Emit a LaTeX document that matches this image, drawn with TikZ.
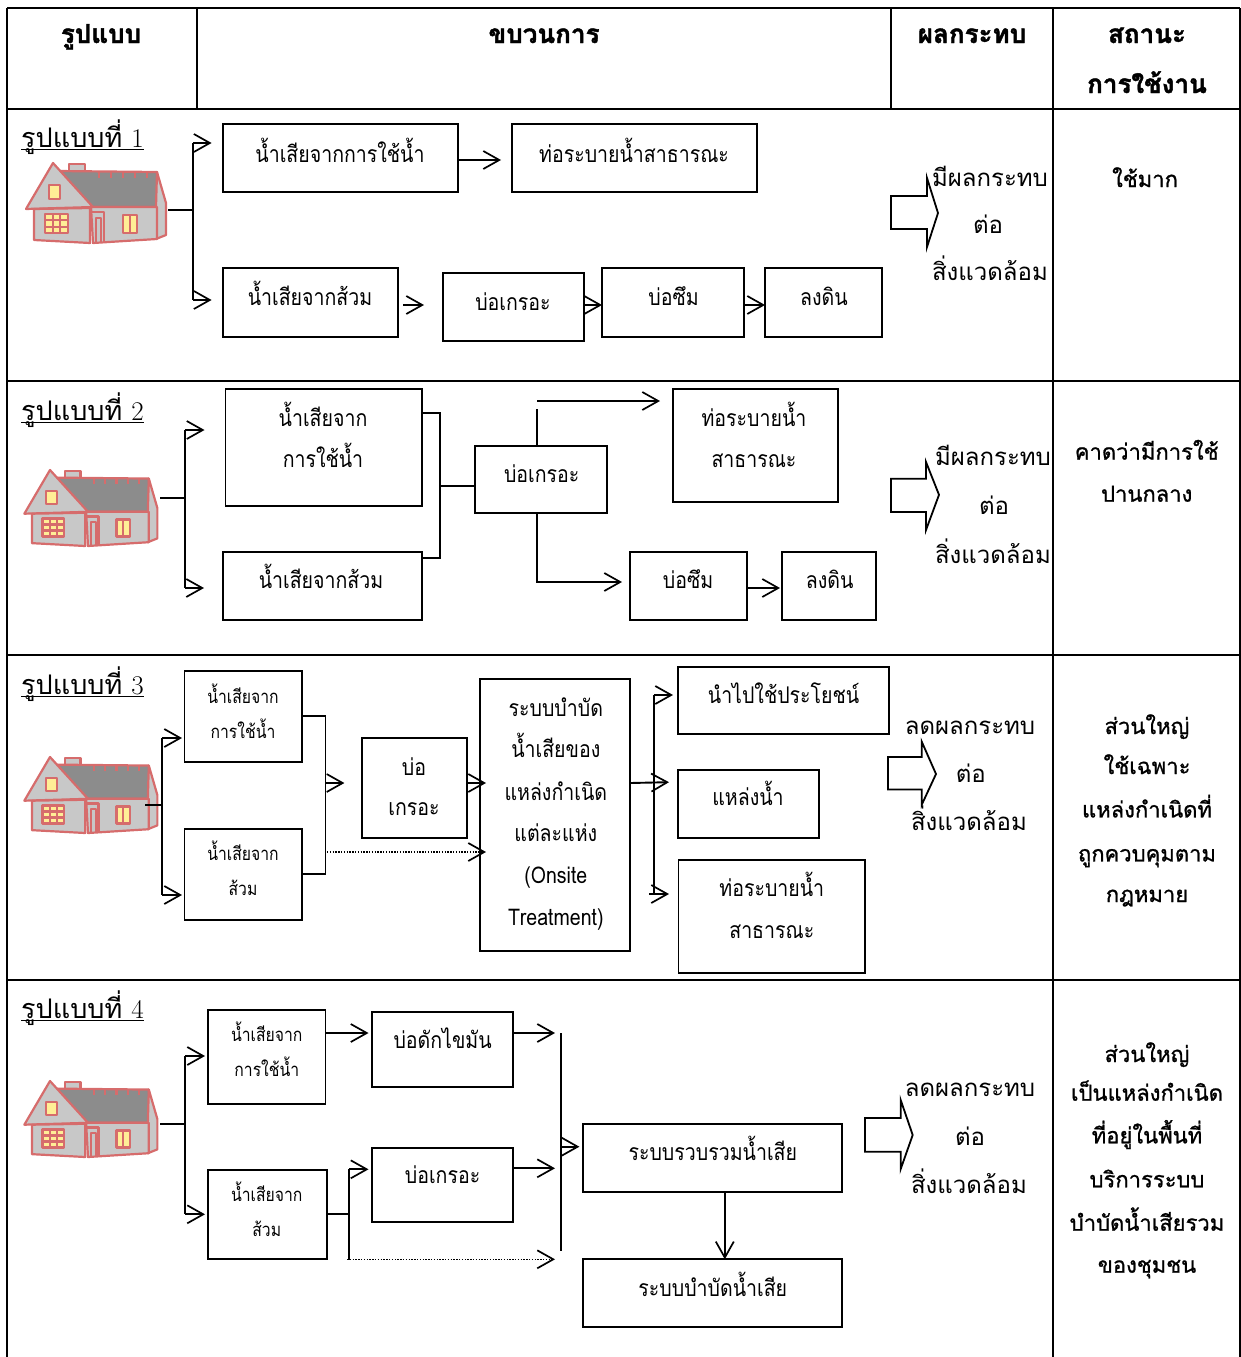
\documentclass[tikz,border=0pt]{standalone}
\usepackage{fontspec}
\newfontfamily\thai[Script=Thai]{Loma}
\newfontfamily\thaicond[Script=Thai,FakeStretch=0.85]{Loma}
\newfontfamily\thaimed[Script=Thai,FakeBold=1.0]{Loma}
\newfontfamily\thaihd[Script=Thai,BoldFeatures={FakeBold=1.6}]{Loma}
\usetikzlibrary{arrows.meta,fit,calc}
\definecolor{houseRed}{RGB}{214,108,108}
\definecolor{wallGray}{RGB}{200,200,200}
\definecolor{roofGray}{RGB}{140,140,140}
\definecolor{winYellow}{RGB}{255,238,150}
\newcommand\bx[5]{\node[box, fit={(#2,#3) (#4,#5)}] (#1) {};}
\newcommand\mytext[5][bt]{\node[#1] (#2) at (#3,#4) {#5};}
\newcommand\blk[8]{\draw[blkarr] (#1,#4) -- (#2,#4) -- (#2,#6) -- (#3,#8) -- (#2,#7) -- (#2,#5) -- (#1,#5) -- cycle;}
\tikzset{
 house/.pic={
  \begin{scope}[line width=2.2pt, draw=houseRed, line join=round]
  \filldraw[fill=wallGray] (16,1) rectangle (32,22);
  \filldraw[fill=roofGray] (4,8) -- (104,9) -- (106,44) -- (38,44) -- cycle;
  \foreach \i in {46,58,70,82,94} \draw (\i,9) -- (\i,15);
  \filldraw[fill=wallGray] (104,9) -- (113,40) -- (113,72) -- (103,76) -- (103,44) -- cycle;
  \filldraw[fill=wallGray] (38,44) -- (104,44) -- (104,76) -- (40,80) -- cycle;
  \draw (38,49) -- (51,49) -- (51,80);
  \draw (43,80) -- (43,55) -- (48,55) -- (48,80);
  \filldraw[fill=winYellow] (70,52) rectangle (84,70);
  \draw (77,52) -- (77,70);
  \filldraw[fill=wallGray] (-27,46) -- (0,0) -- (40,44) -- cycle;
  \filldraw[fill=wallGray] (-19,46) -- (37,45) -- (37,80) -- (-19,77) -- cycle;
  \filldraw[fill=winYellow] (-4,22) rectangle (7,36);
  \filldraw[fill=winYellow] (-8,51) rectangle (15,70);
  \draw (-0.3,51) -- (-0.3,70) (7.3,51) -- (7.3,70) (-8,57.3) -- (15,57.3) (-8,63.7) -- (15,63.7);
  \end{scope}
 }
}
\begin{document}
\begin{tikzpicture}[x=1pt,y=-1pt,
  tbl/.style={line width=2.6pt},
  box/.style={draw, line width=1.9pt, inner sep=0pt, outer sep=0pt},
  con/.style={line width=1.9pt},
  arr/.style={con, -{Straight Barb[length=16pt,width=18pt,line width=1.7pt]}},
  dotarr/.style={line width=1.6pt, dash pattern=on 1.4pt off 1.4pt, -{Straight Barb[length=16pt,width=18pt,line width=1.7pt]}},
  blkarr/.style={draw, line width=1.8pt, line join=miter},
  base/.style={inner sep=0pt, anchor=base},
  hdr/.style={base, font=\thaihd\bfseries\fontsize{26}{30}\selectfont},
  lab/.style={inner sep=0pt, anchor=base west, font=\thai\fontsize{27}{30}\selectfont},
  bt/.style={base, font=\thaicond\fontsize{23}{26}\selectfont},
  bts/.style={base, font=\thaicond\fontsize{18.5}{22}\selectfont},
  imp/.style={base, font=\thai\fontsize{24}{28}\selectfont},
  st/.style={base, font=\thaimed\fontsize{22}{26}\selectfont},
]
\path[use as bounding box] (0,0) rectangle (1241,1357);
% ---------------- table
\draw[tbl] (7,8) -- (1240,8);
\draw[tbl] (7,8) -- (7,1357);
\draw[tbl] (1240,8) -- (1240,1357);
\draw[tbl] (7,109) -- (1240,109);
\draw[tbl] (197,8) -- (197,109);
\draw[tbl] (891,8) -- (891,109);
\draw[tbl] (1053,8) -- (1053,1357);
\draw[tbl] (7,381) -- (1240,381);
\draw[tbl] (7,655) -- (1240,655);
\draw[tbl] (7,980) -- (1240,980);
% header
\mytext[hdr]{hd1}{101}{43}{รูปแบบ}
\mytext[hdr]{hd2}{544}{43}{ขบวนการ}
\mytext[hdr]{hd3}{972}{43}{ผลกระทบ}
\mytext[hdr]{hd4}{1147}{43}{สถานะ}
\mytext[hdr]{hd5}{1147}{93}{การใช้งาน}
% labels
\node[lab] (L1) at (21,147) {รูปแบบที่ {\rmfamily 1}};
\node[lab] (L2) at (21,420) {รูปแบบที่ {\rmfamily 2}};
\node[lab] (L3) at (21,694) {รูปแบบที่ {\rmfamily 3}};
\node[lab] (L4) at (21,1018) {รูปแบบที่ {\rmfamily 4}};
\foreach \l in {L1,L2,L3,L4}
  \draw[line width=1.3pt] ([yshift=-2.5pt]\l.base west) -- ([yshift=-2.5pt]\l.base east);
% houses
\pic at (53,163) {house};
\pic[scale=0.95] at (50,470) {house};
\pic[scale=0.95] at (50,757) {house};
\pic[scale=0.95] at (50,1081) {house};
% ================= row 1
\bx{A1}{222.6}{124}{458}{192}
\bx{B1}{512}{124}{757}{192}
\bx{C1}{222.6}{268}{398}{337}
\bx{D1}{443}{273}{584}{341}
\bx{E1}{602}{268}{744}{337}
\bx{F1}{765}{268}{882}{337}
\mytext{tA1}{340}{162}{น้ำเสียจากการใช้น้ำ}
\mytext{tB1}{634}{162}{ท่อระบายน้ำสาธารณะ}
\mytext{tC1}{310}{305}{น้ำเสียจากส้วม}
\mytext{tD1}{513}{310}{บ่อเกรอะ}
\mytext{tE1}{673.6}{305}{บ่อซึม}
\mytext{tF1}{824}{305}{ลงดิน}
\coordinate (h1) at (168,210);
\coordinate (t1a) at (193,143);
\coordinate (t1b) at (193,300);
\draw[con] (h1) -- (h1 -| t1a);
\draw[con] (t1a) -- (t1b);
\draw[arr, shorten >=11pt] (t1a) -- (t1a -| A1.west);
\draw[arr, shorten >=11pt] (t1b) -- (t1b -| C1.west);
\draw[arr, shorten >=11pt] (A1.east |- 0,160) -- (B1.west |- 0,160);
\draw[arr, shorten <=5pt, shorten >=19pt] (C1.east |- 0,305) -- (D1.west |- 0,305);
\draw[arr] (D1.east |- 0,305) -- (E1.west |- 0,305);
\draw[arr] (E1.east |- 0,305) -- (F1.west |- 0,305);
\blk{891}{927}{938}{196}{229}{178}{247}{213}
\mytext[imp]{i1a}{990}{186}{มีผลกระทบ}
\mytext[imp]{i1b}{988}{233}{ต่อ}
\mytext[imp]{i1c}{990}{280}{สิ่งแวดล้อม}
\mytext[st]{s1a}{1145}{187}{ใช้มาก}
% ================= row 2
\bx{A2}{225.5}{389}{422}{506}
\bx{B2}{673}{389}{837.6}{502}
\bx{C2}{223}{552}{422}{620}
\bx{D2}{474.7}{446}{607}{513}
\bx{E2}{630}{552}{747}{620}
\bx{F2}{782}{552}{876}{620}
\mytext{tA2a}{323}{426.7}{น้ำเสียจาก}
\mytext{tA2b}{323}{467}{การใช้น้ำ}
\mytext{tB2a}{754}{426.7}{ท่อระบายน้ำ}
\mytext{tB2b}{754}{467}{สาธารณะ}
\mytext{tC2}{321}{588}{น้ำเสียจากส้วม}
\mytext{tD2}{541.7}{482.7}{บ่อเกรอะ}
\mytext{tE2}{688}{588}{บ่อซึม}
\mytext{tF2}{829.6}{588}{ลงดิน}
\coordinate (h2) at (160,498);
\coordinate (t2a) at (185.4,430);
\coordinate (t2b) at (185.4,588);
\draw[con] (h2) -- (h2 -| t2a);
\draw[con] (t2a) -- (t2b);
\draw[arr, shorten >=21pt] (t2a) -- (t2a -| A2.west);
\draw[arr, shorten >=19pt] (t2b) -- (t2b -| C2.west);
\coordinate (j2a) at (440,413);
\coordinate (j2b) at (440,558);
\coordinate (j2m) at (440,486);
\draw[con] (A2.east |- j2a) -- (j2a) -- (j2b) -- (C2.east |- j2b);
\draw[con] (j2m) -- (j2m -| D2.west);
\coordinate (u2) at (537,409);
\coordinate (u2a) at (537,401);
\draw[con] (D2.north -| u2) -- (u2);
\draw[arr, shorten >=13pt] (u2a) -- (u2a -| B2.west);
\coordinate (d2) at (537,582);
\draw[arr, shorten >=8pt] (D2.south -| d2) -- (d2) -- (d2 -| E2.west);
\draw[arr, shorten >=2pt] (E2.east |- 0,588) -- (F2.west |- 0,588);
\blk{891}{926}{939}{478.7}{512}{462}{530}{494.8}
\mytext[imp]{i2a}{993}{465}{มีผลกระทบ}
\mytext[imp]{i2b}{994}{514.7}{ต่อ}
\mytext[imp]{i2c}{993}{563}{สิ่งแวดล้อม}
\mytext[st]{s2a}{1146.7}{459.6}{คาดว่ามีการใช้}
\mytext[st]{s2b}{1146.7}{501.7}{ปานกลาง}
% ================= row 3
\bx{A3}{184.5}{671}{302.4}{762}
\bx{C3}{184.5}{829}{302.4}{920}
\bx{D3}{362}{738}{466.7}{837.7}
\bx{E3}{480}{679}{630.4}{950.7}
\bx{F3}{677.6}{666.7}{888.6}{734}
\bx{G3}{677.6}{770}{819}{837.7}
\bx{H3}{678.5}{860}{865}{973}
\mytext[bts]{tA3a}{243}{703}{น้ำเสียจาก}
\mytext[bts]{tA3b}{243}{738}{การใช้น้ำ}
\mytext[bts]{tC3a}{243}{860}{น้ำเสียจาก}
\mytext[bts]{tC3b}{243}{895}{ส้วม}
\mytext{tD3a}{414}{775}{บ่อ}
\mytext{tD3b}{414}{815.7}{เกรอะ}
\mytext{tE3a}{555.8}{716.7}{ระบบบำบัด}
\mytext{tE3b}{555.8}{757.7}{น้ำเสียของ}
\mytext{tE3c}{555.8}{800}{แหล่งกำเนิด}
\mytext{tE3d}{555.8}{841}{แต่ละแห่ง}
\mytext{tE3e}{555.8}{883.3}{(Onsite}
\mytext{tE3f}{555.8}{925.7}{Treatment)}
\mytext{tF3}{783.6}{703.3}{นำไปใช้ประโยชน์}
\mytext{tG3}{748}{805.7}{แหล่งน้ำ}
\mytext{tH3a}{771.8}{896.7}{ท่อระบายน้ำ}
\mytext{tH3b}{771.8}{938}{สาธารณะ}
\coordinate (h3) at (145,805);
\coordinate (t3a) at (162,738);
\coordinate (t3b) at (162,895);
\draw[con] (h3) -- (h3 -| t3a);
\draw[con] (t3a) -- (t3b);
\draw[arr, shorten >=2.5pt] (t3a) -- (t3a -| A3.west);
\draw[arr, shorten >=2.5pt] (t3b) -- (t3b -| C3.west);
\coordinate (j3a) at (325.5,716);
\coordinate (j3b) at (325.5,874);
\coordinate (j3m) at (325.5,783);
\draw[con] (A3.east |- j3a) -- (j3a) -- (j3b) -- (C3.east |- j3b);
\draw[arr, shorten >=17.6pt] (j3m) -- (j3m -| D3.west);
\draw[arr, shorten >=-6pt] (D3.east |- j3m) -- (E3.west |- j3m);
\coordinate (dot3) at (327,852);
\draw[dotarr, shorten >=-6pt] (dot3) -- (dot3 -| E3.west);
\coordinate (t3c) at (654,695);
\coordinate (t3d) at (654,893);
\draw[con] (t3c) -- (t3d);
\draw[arr, shorten >=4.6pt] (t3c) -- (t3c -| F3.west);
\draw[arr, shorten >=8.6pt] (E3.east |- 0,783) -- (G3.west |- 0,782);
\coordinate (t3e) at (649,894);
\draw[arr, shorten >=9.5pt] (t3e) -- (t3e -| H3.west);
\blk{888}{921.7}{936}{757}{789.5}{741.6}{804.8}{774}
\mytext[imp]{i3a}{970}{734}{ลดผลกระทบ}
\mytext[imp]{i3b}{970.8}{782.6}{ต่อ}
\mytext[imp]{i3c}{969}{830.8}{สิ่งแวดล้อม}
\mytext[st]{s3a}{1147}{734}{ส่วนใหญ่}
\mytext[st]{s3b}{1147}{774}{ใช้เฉพาะ}
\mytext[st]{s3c}{1147}{817.4}{แหล่งกำเนิดที่}
\mytext[st]{s3d}{1147}{861.4}{ถูกควบคุมตาม}
\mytext[st]{s3e}{1147}{902}{กฎหมาย}
% ================= row 4
\bx{A4}{207.6}{1010}{325.5}{1104}
\bx{B4}{372}{1012}{513.4}{1086.7}
\bx{C4}{207.6}{1170}{327}{1259.3}
\bx{D4}{372}{1147.7}{513.4}{1221.7}
\bx{E4}{583}{1124}{842}{1191.7}
\bx{F4}{583}{1259.3}{842}{1327.3}
\mytext[bts]{tA4a}{266.8}{1041.7}{น้ำเสียจาก}
\mytext[bts]{tA4b}{266.8}{1076.7}{การใช้น้ำ}
\mytext{tB4}{442.6}{1048.3}{บ่อดักไขมัน}
\mytext[bts]{tC4a}{266.8}{1201.7}{น้ำเสียจาก}
\mytext[bts]{tC4b}{266.8}{1236.7}{ส้วม}
\mytext{tD4}{442.6}{1183.3}{บ่อเกรอะ}
\mytext{tE4}{712.8}{1160}{ระบบรวบรวมน้ำเสีย}
\mytext{tF4}{712.8}{1296}{ระบบบำบัดน้ำเสีย}
\coordinate (h4) at (160,1124);
\coordinate (t4a) at (185.4,1056);
\coordinate (t4b) at (185.4,1214.3);
\draw[con] (h4) -- (h4 -| t4a);
\draw[con] (t4a) -- (t4b);
\draw[arr, shorten >=2.6pt] (t4a) -- (t4a -| A4.west);
\draw[arr, shorten >=2.6pt] (t4b) -- (t4b -| C4.west);
\draw[arr, shorten >=3.5pt] (A4.east |- 0,1033) -- (B4.west |- 0,1033);
\coordinate (m4a) at (560.6,1033);
\coordinate (m4b) at (560.6,1250.7);
\draw[con] (m4a) -- (m4b);
\draw[arr, shorten >=5.6pt] (B4.east |- m4a) -- (m4a);
\coordinate (k4) at (349,1214.3);
\coordinate (k4a) at (349,1169.3);
\coordinate (k4b) at (349,1260);
\draw[con] (C4.east |- k4) -- (k4);
\draw[con] (k4a) -- (k4b);
\draw[arr, shorten >=3.5pt] (k4a) -- (k4a -| D4.west);
\coordinate (dot4) at (347,1259.3);
\draw[dotarr, shorten >=5.6pt] (dot4) -- (dot4 -| m4a);
\draw[arr, shorten >=5.6pt] (D4.east |- 0,1168.3) -- (m4a |- 0,1168.3);
\draw[arr, shorten >=3.6pt] (m4a |- 0,1146.7) -- (E4.west |- 0,1146.7);
\draw[arr] (E4.south -| 724.8,0) -- (F4.north -| 724.8,0);
\blk{865}{900.7}{912.7}{1118}{1151.7}{1100}{1169}{1135}
\mytext[imp]{i4a}{970}{1096.7}{ลดผลกระทบ}
\mytext[imp]{i4b}{970}{1145}{ต่อ}
\mytext[imp]{i4c}{969}{1193.3}{สิ่งแวดล้อม}
\mytext[st]{s4a}{1147}{1062}{ส่วนใหญ่}
\mytext[st]{s4b}{1147}{1100.7}{เป็นแหล่งกำเนิด}
\mytext[st]{s4c}{1147}{1143.3}{ที่อยู่ในพื้นที่}
\mytext[st]{s4d}{1147}{1187.3}{บริการระบบ}
\mytext[st]{s4e}{1147}{1230.7}{บำบัดน้ำเสียรวม}
\mytext[st]{s4f}{1147}{1272.7}{ของชุมชน}
\end{tikzpicture}
\end{document}
